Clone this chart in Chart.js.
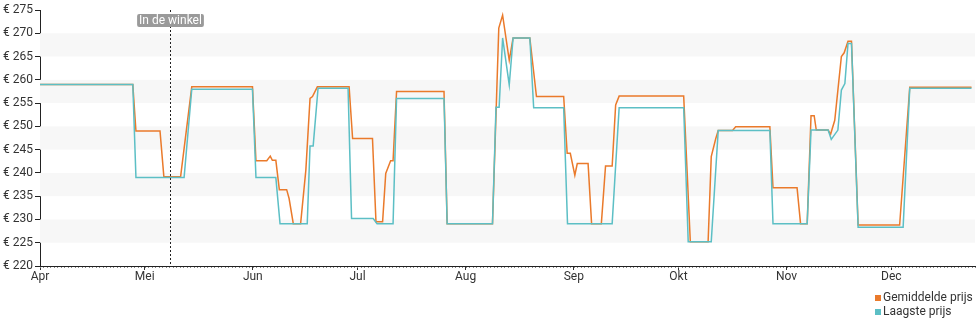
<!DOCTYPE html>
<html lang="nl">
<head>
  <meta charset="UTF-8" />
  <title>Prijsverloop</title>
  <script src="https://cdn.jsdelivr.net/npm/chart.js"></script>
  <style>
    body { margin: 0; background: #fff; font-family: Roboto, sans-serif; }
    .wrap { position: relative; width: 980px; height: 325px; }
    .legend { position: absolute; left: 875px; top: 290px; font-size: 12px; color: #333; line-height: 14px; }
    .legend span.box { display: inline-block; width: 6px; height: 6px; margin-right: 2px; }
  </style>
</head>
<body>
  <div class="wrap">
    <canvas id="priceChart" width="980" height="325"></canvas>
    <div class="legend">
      <div><span class="box" style="background:#ea7a2b"></span>Gemiddelde prijs</div>
      <div><span class="box" style="background:#5cbfc5"></span>Laagste prijs</div>
    </div>
  </div>

  <script>
    // maanden (dagen sinds 1 april)
    const monthLabels = ['Apr', 'Mei', 'Jun', 'Jul', 'Aug', 'Sep', 'Okt', 'Nov', 'Dec'];
    const monthStartDays = [0, 30, 61, 91, 122, 153, 183, 214, 244];

    // gemiddelde prijs
    const avgDays = [0, 26.6, 27.5, 34.4, 35.5, 40.3, 43.5, 60.9, 61.9, 65, 66, 66.6, 67.6, 68.6, 70.7, 71.4, 72.6, 74.7,
      76.2, 77.4, 78.1, 79.5, 88.6, 89.6, 95.3, 96.3, 98.2, 99.1, 100.5, 101.2, 102.2, 115.8, 116.7, 129.7, 131.5,
      132.6, 134.5, 135.6, 140.4, 142.3, 150.1, 151.1, 152, 153.3, 154, 157.1, 158.1, 160.9, 162.1, 164, 165, 166,
      184.5, 186.4, 191.5, 192.4, 193.7, 194.4, 198.5, 199.4, 209.2, 210.1, 217, 218, 219.9, 221, 221.9, 222.5,
      225.9, 226.6, 227.8, 228.7, 229.7, 230.5, 231.6, 232.6, 234.5, 246.4, 249.3, 267];
    const avgPrices = [259, 259, 249, 249, 239.2, 239.2, 258.5, 258.5, 242.6, 242.6, 243.6, 242.7, 242.7, 236.4, 236.4, 234.5, 229.1, 229.1,
      240.6, 256, 256.4, 258.5, 258.5, 247.4, 247.4, 229.5, 229.5, 239.9, 242.6, 242.6, 257.5, 257.5, 229.1, 229.1, 271.1,
      273.9, 264.2, 269, 269, 256.4, 256.4, 244.2, 244.2, 239.5, 242, 242, 229.1, 229.1, 241.5, 241.5, 254.6, 256.5,
      256.5, 225.2, 225.2, 243.5, 247.4, 249.1, 249.1, 249.9, 249.9, 236.8, 236.8, 229.1, 229.1, 252.3, 252.3, 249.2,
      249.2, 248.3, 251.3, 257.8, 265, 265.8, 268.3, 268.3, 228.8, 228.8, 258.4, 258.4];

    // laagste prijs
    const lowDays = [0, 26.6, 27.5, 41.3, 43.5, 60.9, 61.9, 67.6, 68.8, 76.6, 77.4, 78.3, 79.7, 88.3, 89.3, 95.5, 96.6,
      101.2, 102.2, 115.8, 116.7, 129.7, 130.7, 131.6, 132.6, 134.5, 135.6, 140.4, 141.5, 150.1, 151.2, 164, 166,
      184.5, 185.8, 192.4, 194.4, 209.2, 210.1, 219.9, 221, 225.9, 226.8, 228.7, 229.7, 230.7, 231.6, 232.6, 234.5,
      247.4, 249.3, 267];
    const lowPrices = [259, 259, 239, 239, 258, 258, 239, 239, 229.1, 229.1, 245.8, 245.8, 258.2, 258.2, 230.2, 230.2, 229.1,
      229.1, 256, 256, 229.1, 229.1, 254.1, 254.1, 269, 258.9, 269, 269, 254, 254, 229.1, 229.1, 254,
      254, 225.2, 225.2, 249.1, 249.1, 229.1, 229.1, 249.2, 249.2, 247.2, 249.2, 257.8, 259.2, 267.8, 267.8, 228.3,
      228.3, 258.2, 258.2];

    const storeDay = 37.3;
    const storeLabel = 'In de winkel';

    const toPoints = (xs, ys) => xs.map((x, i) => ({ x: x, y: ys[i] }));

    Chart.defaults.font.family = 'Roboto';
    Chart.defaults.font.size = 12;
    Chart.defaults.color = '#333';

    // grijze banden achter de lijnen + kleine dagstreepjes
    const bandsPlugin = {
      id: 'bands',
      beforeDatasetsDraw(chart) {
        const { ctx, chartArea, scales } = chart;
        const y = scales.y;
        ctx.save();
        ctx.fillStyle = '#f7f7f7';
        for (let v = 225; v < 275; v += 10) {
          const top = y.getPixelForValue(v + 5);
          const bottom = y.getPixelForValue(v);
          ctx.fillRect(chartArea.left, top, chartArea.right - chartArea.left, bottom - top);
        }
        // dagstreepjes onder de x-as
        const x = scales.x;
        ctx.strokeStyle = '#888';
        ctx.lineWidth = 1;
        for (let d = 0; d <= x.max; d++) {
          const px = Math.round(x.getPixelForValue(d)) + 0.5;
          ctx.beginPath();
          ctx.moveTo(px, chartArea.bottom + 1);
          ctx.lineTo(px, chartArea.bottom + 2);
          ctx.stroke();
        }
        ctx.restore();
      }
    };

    // stippellijn "In de winkel"
    const storePlugin = {
      id: 'store',
      afterDatasetsDraw(chart) {
        const { ctx, chartArea, scales } = chart;
        const px = Math.round(scales.x.getPixelForValue(storeDay)) + 0.5;
        ctx.save();
        ctx.strokeStyle = '#222';
        ctx.lineWidth = 1;
        ctx.setLineDash([2, 2]);
        ctx.beginPath();
        ctx.moveTo(px, chartArea.top);
        ctx.lineTo(px, chartArea.bottom);
        ctx.stroke();
        ctx.setLineDash([]);
        ctx.font = '12px Roboto';
        const w = ctx.measureText(storeLabel).width + 4;
        ctx.fillStyle = '#9a9a9a';
        ctx.beginPath();
        ctx.roundRect(px - w / 2, 14, w, 13, 2);
        ctx.fill();
        ctx.fillStyle = '#fff';
        ctx.textAlign = 'center';
        ctx.textBaseline = 'middle';
        ctx.fillText(storeLabel, px, 21);
        ctx.restore();
      }
    };

    new Chart(document.getElementById('priceChart'), {
      type: 'line',
      data: {
        datasets: [
          {
            label: 'Gemiddelde prijs',
            data: toPoints(avgDays, avgPrices),
            borderColor: '#ea7a2b',
            backgroundColor: '#ea7a2b',
            borderWidth: 1.5,
            pointRadius: 0,
            tension: 0,
            order: 1,
          },
          {
            label: 'Laagste prijs',
            data: toPoints(lowDays, lowPrices),
            borderColor: '#5cbfc5',
            backgroundColor: '#5cbfc5',
            borderWidth: 1.5,
            pointRadius: 0,
            tension: 0,
            order: 0,
          },
        ],
      },
      options: {
        responsive: false,
        animation: false,
        layout: { padding: { top: 10, right: 5, left: 0, bottom: 0 } },
        plugins: {
          legend: { display: false },
          tooltip: { enabled: false },
        },
        scales: {
          x: {
            type: 'linear',
            min: 0,
            max: 268,
            afterFit: (scale) => { scale.height = 59; },
            afterBuildTicks: (scale) => {
              scale.ticks = monthStartDays.map(v => ({ value: v }));
            },
            ticks: {
              autoSkip: false,
              maxRotation: 0,
              padding: 0,
              color: '#333',
              callback: (v) => monthLabels[monthStartDays.indexOf(v)],
            },
            grid: { drawOnChartArea: false, tickLength: 4, color: '#333' },
            border: { color: '#222', width: 1 },
          },
          y: {
            min: 220,
            max: 275,
            afterFit: (scale) => { scale.width = 40; },
            ticks: {
              stepSize: 5,
              padding: 2,
              color: '#333',
              callback: (v) => '€ ' + v,
            },
            grid: { drawOnChartArea: false, tickLength: 5, color: '#222' },
            border: { color: '#222', width: 1 },
          },
        },
      },
      plugins: [bandsPlugin, storePlugin],
    });
  </script>
</body>
</html>
